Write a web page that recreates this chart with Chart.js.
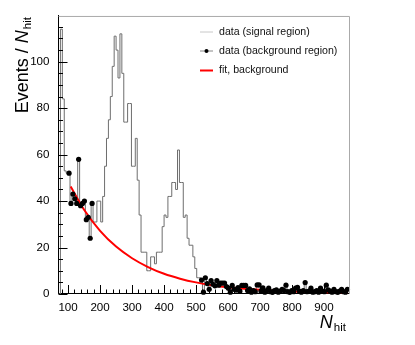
<!DOCTYPE html>
<html>
<head>
<meta charset="UTF-8">
<title>N_hit</title>
<script src="https://cdn.jsdelivr.net/npm/chart.js"></script>
<style>
  body { margin: 0; background: #fff; }
  #plot { display: block; }
</style>
</head>
<body>
<canvas id="plot" width="415" height="345"></canvas>
<script>
// histogram binning in N_hit
const binLow = 70;
const binWidth = 6;

// bin contents, split into the windows of the plot
const sigLow = [0, 114, 84, 53, 52];                                  // 70 - 100
const bgLeft = [52, 39, 43, 41, 39, 58, 38, 39, 40, 32, 33, 24, 39];  // 100 - 178
const sigPeak = [31, 31, 40, 40, 31, 42, 55, 67, 75, 85,
                 98, 111, 105, 93, 112, 95, 74, 74, 82, 82,
                 55, 55, 67, 49, 34, 18, 18, 18, 10, 10,
                 16, 16, 13, 18, 18, 18, 29, 34, 33, 42,
                 42, 48, 48, 45, 62, 48, 48, 33, 34, 24,
                 21, 21, 16, 11, 7, 7];                                // 178 - 514
const bgRight = [6.0, 0.8, 7.0, 4.5, 2.0, 5.8, 4.2, 3.5, 5.8, 3.8,
                 4.7, 4.7, 4.7, 3.2, 2.5, 0.8, 3.7, 2.0, 1.7, 2.8,
                 1.2, 3.7, 3.7, 3.7, 1.5, 2.2, 0.8, 1.5, 1.0, 3.9,
                 3.9, 1.2, 2.6, 0.8, 1.5, 2.5, 1.0, 0.7, 1.5, 1.8,
                 0.8, 1.2, 2.0, 1.5, 3.8, 1.0, 0.7, 1.5, 1.0, 2.5,
                 2.9, 1.2, 0.8, 1.5, 4.9, 1.0, 1.2, 2.5, 0.8, 1.0,
                 1.5, 0.8, 2.5, 1.2, 1.0, 3.8, 1.8, 1.2, 0.8, 2.0,
                 1.0, 0.7, 1.2, 2.0, 1.0, 0.8, 2.0];                  // 514 - 976

// background fit
const fitX = [108, 150, 200, 250, 300, 350, 400, 450, 500, 550, 600, 650, 700, 750, 800, 850, 900, 975];
const fitY = [46.3, 36.3, 27.2, 20.4, 15.4, 11.6, 8.7, 6.6, 5.0, 3.8, 2.9, 2.3, 1.8, 1.4, 1.1, 0.9, 0.8, 0.6];

const xTicks = [100, 200, 300, 400, 500, 600, 700, 800, 900];
const yTicks = [0, 20, 40, 60, 80, 100];

const FONT = "'Liberation Sans', Arial, sans-serif";

// step histogram: one point per lower bin edge, plus the last upper edge
const counts = [...sigLow, ...bgLeft, ...sigPeak, ...bgRight];
const histPts = counts.map((c, i) => ({ x: binLow + i * binWidth, y: c }));
histPts.push({ x: binLow + counts.length * binWidth, y: counts[counts.length - 1] });

const leftStart = sigLow.length;
const rightStart = sigLow.length + bgLeft.length + sigPeak.length;
const bgPts = [
  ...bgLeft.map((c, i) => ({ x: binLow + (leftStart + i + 0.5) * binWidth, y: c })),
  ...bgRight.map((c, i) => ({ x: binLow + (rightStart + i + 0.5) * binWidth, y: c }))
];
const fitPts = fitX.map((x, i) => ({ x: x, y: fitY[i] }));

function drawTitle(ctx, x, y, rotate) {
  ctx.save();
  ctx.translate(x, y);
  if (rotate) ctx.rotate(-Math.PI / 2);
  ctx.fillStyle = '#000';
  ctx.textBaseline = 'alphabetic';
  ctx.font = '18px ' + FONT;
  const pre = rotate ? 'Events / ' : '';
  const w1 = ctx.measureText(pre).width;
  ctx.font = 'italic 18px ' + FONT;
  const w2 = ctx.measureText('N').width;
  ctx.font = '11.5px ' + FONT;
  const w3 = ctx.measureText('hit').width;
  let u = -(w1 + w2 + w3 + 1);
  ctx.font = '18px ' + FONT;
  ctx.fillText(pre, u, 0);
  u += w1;
  ctx.font = 'italic 18px ' + FONT;
  ctx.fillText('N', u, 0);
  u += w2 + 1;
  ctx.font = '11.5px ' + FONT;
  ctx.fillText('hit', u, 3);
  ctx.restore();
}

const decor = {
  id: 'decor',
  afterDraw(chart) {
    const ctx = chart.ctx;
    const a = chart.chartArea;
    const xs = chart.scales.x;
    const ys = chart.scales.y;

    // grey frame top and right
    ctx.save();
    ctx.strokeStyle = '#aaaaaa';
    ctx.lineWidth = 1;
    ctx.beginPath();
    ctx.moveTo(a.left, a.top + 0.5);
    ctx.lineTo(a.right + 0.5, a.top + 0.5);
    ctx.lineTo(a.right + 0.5, a.bottom);
    ctx.stroke();

    // ticks pointing into the frame
    ctx.strokeStyle = '#000';
    ctx.beginPath();
    for (let v = 0; v <= 115; v += 5) {
      const py = Math.round(ys.getPixelForValue(v)) + 0.5;
      const len = v % 20 === 0 ? 9 : 4.5;
      ctx.moveTo(a.left, py);
      ctx.lineTo(a.left + len, py);
    }
    for (let v = 80; v <= 960; v += 20) {
      const px = Math.round(xs.getPixelForValue(v)) + 0.5;
      const len = v % 100 === 0 ? 9 : 4.5;
      ctx.moveTo(px, a.bottom);
      ctx.lineTo(px, a.bottom - len);
    }
    ctx.stroke();
    ctx.restore();

    // axis titles
    drawTitle(ctx, 27.5, 17, true);
    drawTitle(ctx, 346, 328, false);

    // legend
    ctx.save();
    ctx.font = '10.6px ' + FONT;
    ctx.fillStyle = '#111';
    ctx.textBaseline = 'middle';
    const lx0 = 200, lx1 = 213, tx = 219;
    const rows = [
      { y: 32, text: 'data (signal region)', color: '#c8c8c8', w: 1 },
      { y: 51, text: 'data (background region)', color: '#888888', w: 1, dot: true },
      { y: 70.5, text: 'fit, background', color: '#ff0000', w: 2 }
    ];
    rows.forEach(r => {
      ctx.strokeStyle = r.color;
      ctx.lineWidth = r.w;
      ctx.beginPath();
      ctx.moveTo(lx0, r.y);
      ctx.lineTo(lx1, r.y);
      ctx.stroke();
      if (r.dot) {
        ctx.beginPath();
        ctx.arc((lx0 + lx1) / 2, r.y, 2, 0, Math.PI * 2);
        ctx.fillStyle = '#000';
        ctx.fill();
        ctx.fillStyle = '#111';
      }
      ctx.fillText(r.text, tx, r.y);
    });
    ctx.restore();
  }
};

new Chart(document.getElementById('plot').getContext('2d'), {
  type: 'line',
  data: {
    datasets: [
      {
        label: 'data (background region)',
        data: bgPts,
        showLine: false,
        pointRadius: 2.6,
        pointBackgroundColor: '#000',
        pointBorderWidth: 0,
        clip: false,
        order: 0
      },
      {
        label: 'fit, background',
        data: fitPts,
        borderColor: '#ff0000',
        borderWidth: 2,
        pointRadius: 0,
        cubicInterpolationMode: 'monotone',
        order: 1
      },
      {
        label: 'data (signal region)',
        data: histPts,
        borderColor: '#6e6e6e',
        borderWidth: 1,
        pointRadius: 0,
        stepped: true,
        order: 2
      }
    ]
  },
  options: {
    responsive: false,
    animation: false,
    events: [],
    layout: { padding: { top: 15, right: 66, left: 0, bottom: 0 } },
    plugins: { legend: { display: false }, tooltip: { enabled: false } },
    scales: {
      x: {
        type: 'linear',
        min: 70,
        max: 978,
        grid: { display: false, drawTicks: false },
        border: { color: '#000', width: 1 },
        ticks: { padding: 7, color: '#000', font: { family: FONT, size: 11.6 } },
        afterBuildTicks: s => { s.ticks = xTicks.map(v => ({ value: v })); },
        afterFit: s => { s.height = 51; }
      },
      y: {
        min: 0,
        max: 119.7,
        grid: { display: false, drawTicks: false },
        border: { color: '#000', width: 1 },
        ticks: { padding: 9, color: '#000', font: { family: FONT, size: 11.6 } },
        afterBuildTicks: s => { s.ticks = yTicks.map(v => ({ value: v })); },
        afterFit: s => { s.width = 58.5; }
      }
    }
  },
  plugins: [decor]
});
</script>
</body>
</html>
